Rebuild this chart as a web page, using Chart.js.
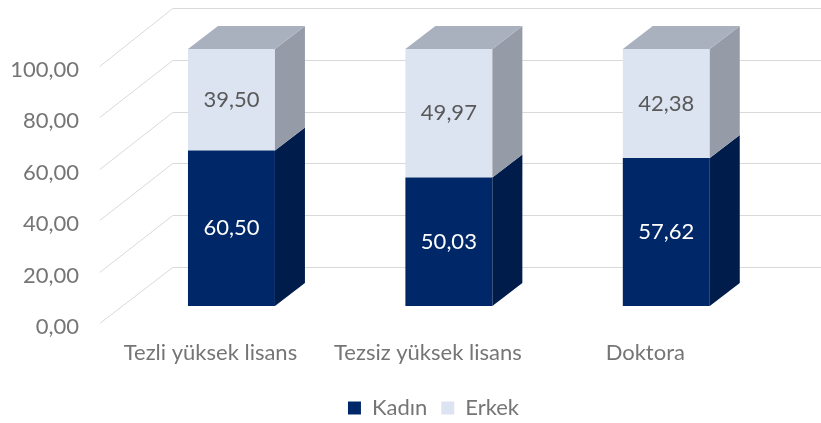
<!DOCTYPE html>
<html><head><meta charset="utf-8">
<script src="https://cdn.jsdelivr.net/npm/chart.js@4.4.0/dist/chart.umd.min.js"></script>
<style>html,body{margin:0;padding:0;background:#fff}#wrap{width:821px;height:423px}</style>
</head><body><div id="wrap"><canvas id="c" width="821" height="423"></canvas></div>
<script>
const categories = ['Tezli yüksek lisans', 'Tezsiz yüksek lisans', 'Doktora'];
const seriesNames = ['Kadın', 'Erkek'];
const kadin = [60.50, 50.03, 57.62];
const erkek = [39.50, 49.97, 42.38];
const yTickValues = [0, 20, 40, 60, 80, 100];

const frontColors = ['#002868', '#dce3f1'];
const sideColors = ['#001c4b', '#959ba7'];
const topColor = '#a9b1be';
const labelColors = ['#ffffff', '#595959'];
const DX = 30, DY = 23;
const FONT = 'Lato';
const FS = 22;
const fmt = v => Number(v).toFixed(2).replace('.', ',');

const threeD = {
  id: 'threeD',
  afterLayout(chart) {
    // centre the legend under the plot like the reference
    if (chart.legend) { chart.legend.left += 46; chart.legend.right += 46; }
  },
  beforeDatasetsDraw(chart) {
    const ctx = chart.ctx, ys = chart.scales.y, ca = chart.chartArea;
    ctx.save();
    ctx.strokeStyle = '#d9d9d9';
    ctx.lineWidth = 1;
    yTickValues.forEach(v => {
      const p = ys.getPixelForValue(v);
      const yf = Math.round(p + 17) + 0.5;
      const yb = Math.round(p - 39 - 0.02 * v) + 0.5;
      ctx.beginPath();
      ctx.moveTo(ca.left - 23, yf);
      ctx.lineTo(ca.left + 50, yb);
      ctx.lineTo(chart.width, yb);
      ctx.stroke();
    });
    ctx.restore();
  },
  afterDatasetsDraw(chart) {
    const ctx = chart.ctx;
    const last = chart.data.datasets.length - 1;
    ctx.save();
    chart.data.datasets.forEach((ds, di) => {
      const meta = chart.getDatasetMeta(di);
      meta.data.forEach((bar, i) => {
        const {x, y, base, width} = bar.getProps(['x', 'y', 'base', 'width'], true);
        const l = x - width / 2, r = x + width / 2;
        ctx.fillStyle = sideColors[di];
        ctx.beginPath();
        ctx.moveTo(r, y); ctx.lineTo(r + DX, y - DY); ctx.lineTo(r + DX, base - DY); ctx.lineTo(r, base);
        ctx.closePath(); ctx.fill();
        if (di === last) {
          ctx.fillStyle = topColor;
          ctx.beginPath();
          ctx.moveTo(l, y); ctx.lineTo(l + DX, y - DY); ctx.lineTo(r + DX, y - DY); ctx.lineTo(r, y);
          ctx.closePath(); ctx.fill();
        }
        ctx.fillStyle = labelColors[di];
        ctx.font = FS + 'px ' + FONT;
        ctx.textAlign = 'center';
        ctx.textBaseline = 'middle';
        ctx.fillText(fmt(ds.data[i]), x, (y + base) / 2);
      });
    });
    ctx.restore();
  }
};

new Chart(document.getElementById('c'), {
  type: 'bar',
  data: {
    labels: categories,
    datasets: [
      {label: seriesNames[0], data: kadin, backgroundColor: frontColors[0], borderWidth: 0, categoryPercentage: 0.4, barPercentage: 1},
      {label: seriesNames[1], data: erkek, backgroundColor: frontColors[1], borderWidth: 0, categoryPercentage: 0.4, barPercentage: 1}
    ]
  },
  options: {
    responsive: false,
    animation: false,
    devicePixelRatio: 1,
    layout: {padding: {left: 0, right: 46, top: 49, bottom: -6}},
    plugins: {
      legend: {
        position: 'bottom',
        labels: {boxWidth: 13, boxHeight: 13, padding: 14, color: '#757575', font: {family: FONT, size: FS}}
      },
      tooltip: {enabled: false}
    },
    scales: {
      x: {
        stacked: true,
        grid: {display: false, drawTicks: false},
        border: {display: false},
        ticks: {color: '#757575', font: {family: FONT, size: FS}, padding: 34, labelOffset: -21, maxRotation: 0},
        afterFit: s => { s.height = 77; }
      },
      y: {
        stacked: true,
        min: 0, max: 100,
        grid: {display: false, drawTicks: false},
        border: {display: false},
        afterBuildTicks: s => { s.ticks = yTickValues.map(v => ({value: v})); },
        afterFit: s => { s.width = 122.75; s.paddingTop = 0; s.paddingBottom = 0; },
        ticks: {color: '#757575', font: {family: FONT, size: FS}, padding: 43.75,
                labelOffset: c => 21 + 0.03 * ((c && c.tick) ? c.tick.value : 0), callback: v => fmt(v)}
      }
    }
  },
  plugins: [threeD]
});
</script>
</body></html>
